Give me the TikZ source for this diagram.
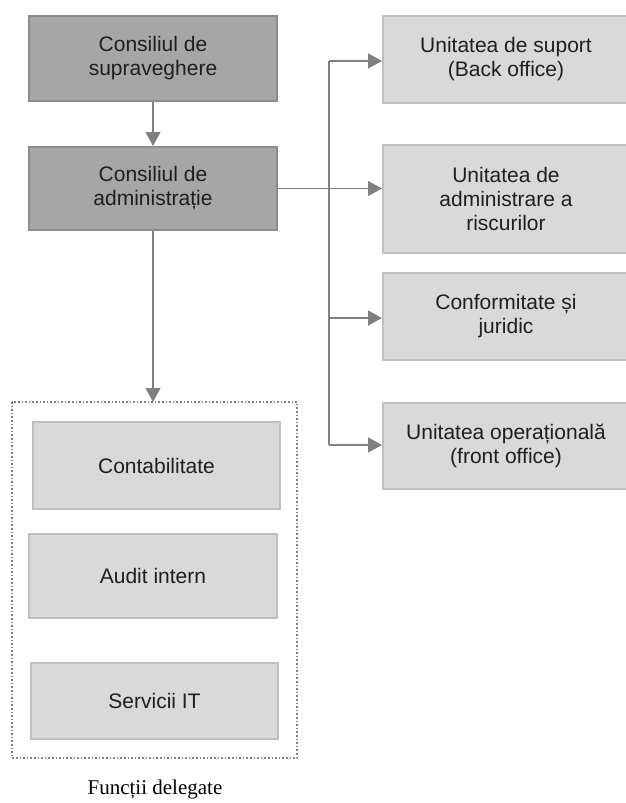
\documentclass[tikz,border=0pt]{standalone}
\usepackage{fontspec}
\setmainfont{Liberation Sans}
\newfontfamily\capfont{Liberation Serif}
\usetikzlibrary{arrows.meta}
\definecolor{darkfill}{RGB}{166,166,166}
\definecolor{darkline}{RGB}{140,140,140}
\definecolor{lightfill}{RGB}{217,217,217}
\definecolor{lightline}{RGB}{191,191,191}
\definecolor{conn}{RGB}{128,128,128}
\definecolor{txt}{RGB}{30,30,30}
\tikzset{
  darkbox/.style={draw=darkline, fill=darkfill, line width=2pt, text=txt, align=center, inner sep=0pt, font=\fontsize{21}{24}\selectfont},
  lightbox/.style={draw=lightline, fill=lightfill, line width=2pt, text=txt, align=center, inner sep=0pt, font=\fontsize{21}{24}\selectfont},
  arr/.style={draw=conn, line width=1.3pt, -{Triangle[length=14pt,width=15pt]}},
  ln/.style={draw=conn, line width=1.3pt},
}
\begin{document}
\begin{tikzpicture}[x=1pt,y=-1pt]
\useasboundingbox (0,0) rectangle (625,803);
\fill[white] (0,0) rectangle (625,803);
% left column
\node[darkbox, minimum width=248pt, minimum height=85pt] (b1) at (153,58.5) {Consiliul de\\supraveghere};
\node[darkbox, minimum width=248pt, minimum height=83pt] (b2) at (153,188.5) {Consiliul de\\administrație};
% dotted group
\draw[conn, line width=1.6pt, dotted] (12,402) rectangle (297,758);
\coordinate (grpn) at (153,402);
\node[lightbox, minimum width=247pt, minimum height=87pt] (c1) at (156.5,465.5) {Contabilitate};
\node[lightbox, minimum width=248pt, minimum height=84pt] (c2) at (153,576) {Audit intern};
\node[lightbox, minimum width=247pt, minimum height=76pt] (c3) at (154.5,701) {Servicii IT};
\node[font=\capfont\fontsize{21}{24}\selectfont, text=black] (cap) at (155,789) {Funcții delegate};
% right column
\node[lightbox, minimum width=246pt, minimum height=87pt, anchor=west] (r1) at (382,59.5) {Unitatea de suport\\(Back office)};
\node[lightbox, minimum width=246pt, minimum height=108pt, anchor=west] (r2) at (382,199) {Unitatea de\\administrare a\\riscurilor};
\node[lightbox, minimum width=246pt, minimum height=87pt, anchor=west] (r3) at (382,316.5) {Conformitate și\\juridic};
\node[lightbox, minimum width=246pt, minimum height=86pt, anchor=west] (r4) at (382,446) {Unitatea operațională\\(front office)};
% connectors
\draw[arr] (b1.south) -- (b2.north);
\draw[arr] (b2.south) -- (grpn);
\coordinate (trunk) at (329,188.5);
\coordinate (t1) at (329,61);
\coordinate (t3) at (329,318);
\coordinate (t4) at (329,445);
\draw[ln] (b2.east) -- (trunk);
\draw[ln] (t1) -- (t4);
\draw[arr] (t1) -- (r1.west |- t1);
\draw[arr] (trunk) -- (r2.west |- trunk);
\draw[arr] (t3) -- (r3.west |- t3);
\draw[arr] (t4) -- (r4.west |- t4);
\end{tikzpicture}
\end{document}
